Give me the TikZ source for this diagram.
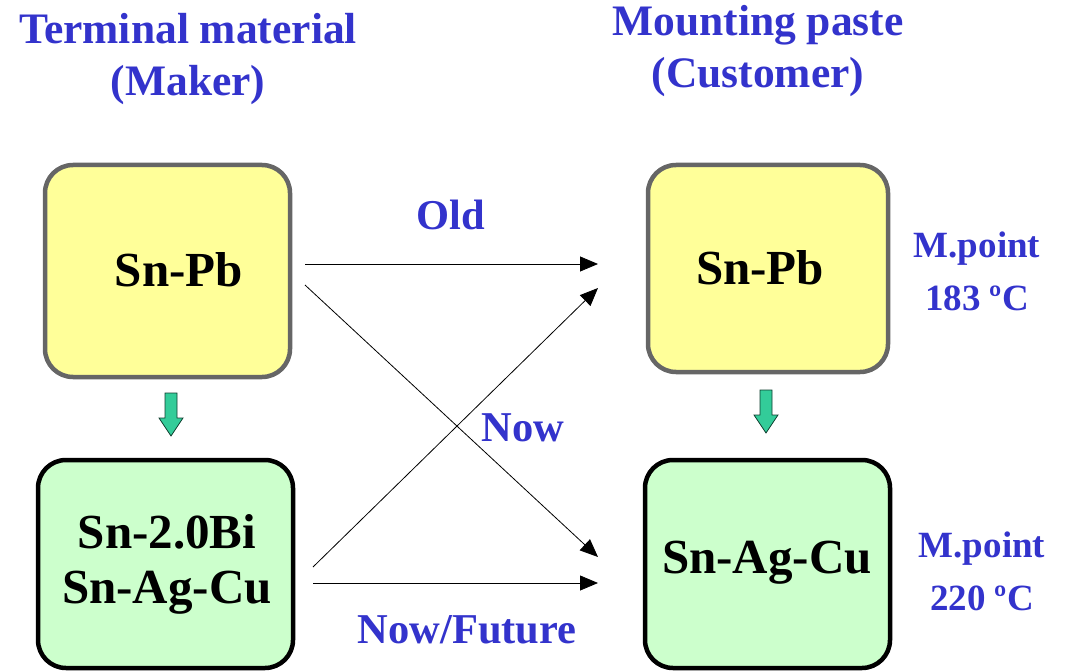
\documentclass[tikz,border=0pt]{standalone}
\usepackage{fontspec}
\setmainfont{Liberation Serif}
\usetikzlibrary{arrows.meta}
\definecolor{ttl}{HTML}{3333CC}
\definecolor{yfill}{HTML}{FFFF99}
\definecolor{gfill}{HTML}{CCFFCC}
\definecolor{gborder}{HTML}{666666}
\definecolor{garrow}{HTML}{33CC99}
\begin{document}
\begin{tikzpicture}[x=1pt,y=-1pt,
  box/.style={rounded corners=28pt, line width=4.5pt, inner sep=0pt},
  ybox/.style={box, draw=gborder, fill=yfill},
  gbox/.style={box, draw=black, fill=gfill},
  boxtext/.style={font=\bfseries\fontsize{49}{55}\selectfont, align=center, text=black},
  ttltext/.style={font=\bfseries\fontsize{43.5}{52}\selectfont, text=ttl, align=center},
  lbl/.style={font=\bfseries\fontsize{42.5}{48}\selectfont, text=ttl},
  mpt/.style={font=\bfseries\fontsize{37}{53}\selectfont, text=ttl, align=center},
  conn/.style={line width=0.8pt, -{Triangle[length=18pt,width=15pt]}},
  downarrow/.style={fill=garrow, draw=black!70!garrow, line width=0.8pt}
]
\useasboundingbox (0,0) rectangle (1070,671);
% boxes
\draw[ybox] (45,165) rectangle (290,377);
\node (tl) at (167.5,271) {};
\draw[gbox] (38,460) rectangle (293,668);
\node (bl) at (165.5,564) {};
\draw[ybox] (648,165) rectangle (888,372);
\node (tr) at (768,268) {};
\draw[gbox] (645,460) rectangle (890,668);
\node (br) at (767.5,564) {};
% box texts
\node[boxtext] (tltxt) at (179,270) {Sn-Pb};
\node[boxtext] (bltxt) at (167,564) {Sn-2.0Bi\\Sn-Ag-Cu};
\node[boxtext] (trtxt) at (760,268) {Sn-Pb};
\node[boxtext] (brtxt) at (767,563) {Sn-Ag-Cu};
% titles
\node[ttltext] (t1) at (188,59) {Terminal material\\(Maker)};
\node[ttltext] (t2) at (758,51) {Mounting paste\\(Customer)};
% melting points
\node[mpt] (m1) at (977,271) {M.point\\183 ºC};
\node[mpt] (m2) at (982,571) {M.point\\220 ºC};
% connector endpoints
\coordinate (a1) at (305,264); \coordinate (b1) at (598,264);
\coordinate (a2) at (305,285); \coordinate (b2) at (598,557);
\coordinate (a3) at (313,567); \coordinate (b3) at (598,288);
\coordinate (a4) at (313,583); \coordinate (b4) at (598,583);
\draw[conn] (a1) -- (b1);
\draw[conn] (a2) -- (b2);
\draw[conn] (a3) -- (b3);
\draw[conn] (a4) -- (b4);
% labels
\node[lbl] (old) at (451,215) {Old};
\node[lbl] (now) at (523,428) {Now};
\node[lbl] (nf) at (467,630) {Now/Future};
% green down arrows
\draw[downarrow] (165,393) -- (177,393) -- (177,418) -- (183,418) -- (171,436) -- (159,418) -- (165,418) -- cycle;
\draw[downarrow] (760,390) -- (772,390) -- (772,415) -- (778,415) -- (766,433) -- (754,415) -- (760,415) -- cycle;
\end{tikzpicture}
\end{document}
